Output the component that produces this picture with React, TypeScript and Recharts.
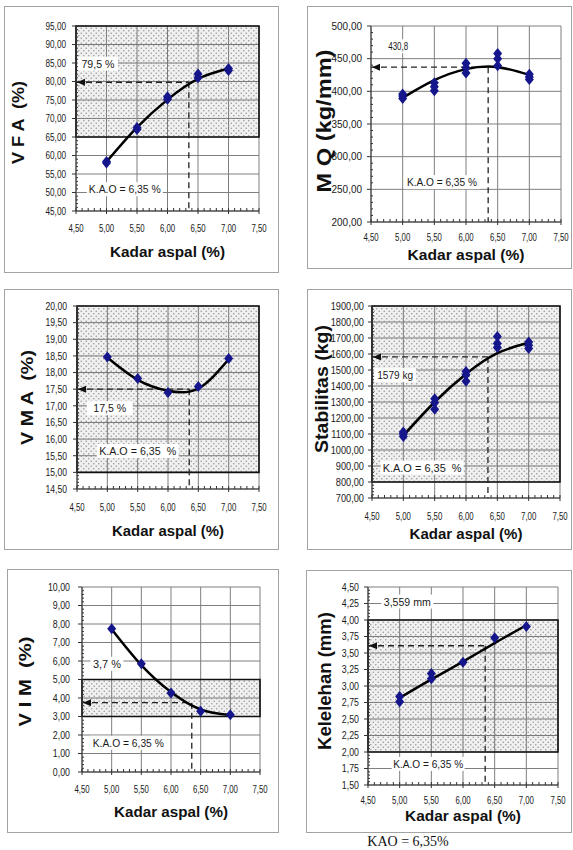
import React from 'react';
import {
  ComposedChart,
  Line,
  Scatter,
  XAxis,
  YAxis,
  CartesianGrid,
  ReferenceArea,
  ReferenceLine,
  ReferenceDot,
} from 'recharts';

// ---- shared x axis: kadar aspal (%) ----
const kadarAspal = [5.0, 5.5, 6.0, 6.5, 7.0];
const xTicks = [4.5, 5.0, 5.5, 6.0, 6.5, 7.0, 7.5];
const kao = 6.35;

// ---- VFA (%) ----
const vfaX = [5.0, 5.0, 5.5, 5.5, 6.0, 6.0, 6.5, 6.5, 7.0, 7.0];
const vfaY = [58.0, 58.4, 67.0, 67.6, 75.2, 75.9, 81.0, 82.0, 83.0, 83.5];
const vfaTrend = [58.3, 67.6, 75.1, 80.7, 83.5];
const vfaTicks = [45, 50, 55, 60, 65, 70, 75, 80, 85, 90, 95];
const vfaBand = [65, 95];
const vfaKao = 79.8;

// ---- MQ (kg/mm) ----
const mqX = [5, 5, 5, 5.5, 5.5, 5.5, 6, 6, 6, 6.5, 6.5, 6.5, 7, 7, 7];
const mqY = [389, 393, 396, 401, 407, 413, 428, 436, 443, 439, 450, 458, 418, 422, 426];
const mqTrend = [390, 417, 434, 437, 425];
const mqTicks = [200, 250, 300, 350, 400, 450, 500];
const mqKao = 437;

// ---- VMA (%) ----
const vmaX = [5.0, 5.5, 6.0, 6.5, 7.0];
const vmaY = [18.47, 17.82, 17.4, 17.58, 18.42];
const vmaTrend = [18.45, 17.78, 17.45, 17.52, 18.4];
const vmaTicks = [14.5, 15, 15.5, 16, 16.5, 17, 17.5, 18, 18.5, 19, 19.5, 20];
const vmaBand = [15, 20];
const vmaKao = 17.5;

// ---- Stabilitas (kg) ----
const stabX = [5, 5, 5, 5.5, 5.5, 5.5, 6, 6, 6, 6.5, 6.5, 6.5, 7, 7, 7];
const stabY = [1085, 1100, 1112, 1255, 1295, 1320, 1430, 1470, 1490, 1640, 1665, 1710, 1635, 1655, 1675];
const stabTrend = [1090, 1300, 1475, 1605, 1670];
const stabTicks = [700, 800, 900, 1000, 1100, 1200, 1300, 1400, 1500, 1600, 1700, 1800, 1900];
const stabBand = [800, 1900];
const stabKao = 1582;

// ---- VIM (%) ----
const vimX = [5.0, 5.5, 6.0, 6.5, 7.0];
const vimY = [7.75, 5.85, 4.27, 3.28, 3.1];
const vimTrend = [7.72, 5.78, 4.32, 3.38, 3.08];
const vimTicks = [0, 1, 2, 3, 4, 5, 6, 7, 8, 9, 10];
const vimBand = [3, 5];
const vimKao = 3.75;

// ---- Kelelehan (mm) ----
const flowX = [5.0, 5.0, 5.5, 5.5, 6.0, 6.5, 7.0];
const flowY = [2.76, 2.84, 3.11, 3.19, 3.36, 3.73, 3.9];
const flowTrend = [2.82, 3.1, 3.37, 3.65, 3.92];
const flowTicks = [1.5, 1.75, 2, 2.25, 2.5, 2.75, 3, 3.25, 3.5, 3.75, 4, 4.25, 4.5];
const flowBand = [2, 4];
const flowKao = 3.61;

const AXIS = '#333';
const GRID = '#7f7f7f';
const MARK = '#16168c';

const zip = (xs: number[], ys: number[]) => xs.map((x, i) => ({ x, y: ys[i] }));
const fmt = (v: number) => v.toFixed(2).replace('.', ',');

function subdivide(majors: number[], n: number) {
  const out: number[] = [];
  for (let i = 0; i < majors.length - 1; i++) {
    const step = (majors[i + 1] - majors[i]) / n;
    for (let j = 0; j < n; j++) out.push(+(majors[i] + j * step).toFixed(4));
  }
  out.push(majors[majors.length - 1]);
  return out;
}
const isMajor = (v: number, majors: number[]) => majors.some((m) => Math.abs(m - v) < 1e-6);

const panels = [
  {
    id: 'vfa',
    box: { left: 5, top: 7, width: 273, height: 265 },
    plot: { left: 76, top: 26, right: 259, bottom: 211 },
    yTicks: vfaTicks, yFont: 10.5, yScale: 0.78, yGap: 10,
    yTitle: 'V F A  (%)', yTitleX: 13, yTitleDy: 4, yTitleLen: 83, yTitleFont: 17,
    xLabelDy: 17, xTitleDy: 40, xTitleLen: 115,
    samples: zip(vfaX, vfaY), trend: zip(kadarAspal, vfaTrend), band: vfaBand, kaoY: vfaKao,
    notes: [
      { x: 4.86, y: 84.8, text: '79,5 %', w: 40, len: 33 },
      { x: 5.3, y: 50.9, text: 'K.A.O = 6,35 %', w: 76, len: 72 },
    ],
  },
  {
    id: 'mq',
    box: { left: 308, top: 7, width: 263, height: 261 },
    plot: { left: 371, top: 26, right: 561, bottom: 222 },
    yTicks: mqTicks, yFont: 10.5, yScale: 0.95, yGap: 9,
    yTitle: 'M Q (kg/mm)', yTitleX: 16, yTitleDy: -3, yTitleLen: 143, yTitleFont: 20,
    xLabelDy: 15, xTitleDy: 32, xTitleLen: 117,
    samples: zip(mqX, mqY), trend: zip(kadarAspal, mqTrend), band: null, kaoY: mqKao,
    notes: [
      { x: 4.93, y: 469, text: '430,8', w: 26, len: 20 },
      { x: 5.62, y: 261, text: 'K.A.O = 6,35 %', w: 76, len: 70 },
    ],
  },
  {
    id: 'vma',
    box: { left: 5, top: 290, width: 273, height: 259 },
    plot: { left: 77, top: 306, right: 259, bottom: 489 },
    yTicks: vmaTicks, yFont: 10.5, yScale: 0.82, yGap: 10,
    yTitle: 'V M A  (%)', yTitleX: 22, yTitleDy: 0, yTitleLen: 95, yTitleFont: 17,
    xLabelDy: 18, xTitleDy: 41, xTitleLen: 112,
    samples: zip(vmaX, vmaY), trend: zip(kadarAspal, vmaTrend), band: vmaBand, kaoY: vmaKao,
    notes: [
      { x: 5.04, y: 16.93, text: '17,5 %', w: 46, len: 33 },
      { x: 5.5, y: 15.64, text: 'K.A.O = 6,35  %', w: 82, len: 77 },
    ],
  },
  {
    id: 'stab',
    box: { left: 308, top: 290, width: 263, height: 259 },
    plot: { left: 372, top: 306, right: 560, bottom: 498 },
    yTicks: stabTicks, yFont: 10.5, yScale: 0.88, yGap: 8,
    yTitle: 'Stabilitas (kg)', yTitleX: 14, yTitleDy: -13, yTitleLen: 128, yTitleFont: 18,
    xLabelDy: 18, xTitleDy: 35, xTitleLen: 113,
    samples: zip(stabX, stabY), trend: zip(kadarAspal, stabTrend), band: stabBand, kaoY: stabKao,
    notes: [
      { x: 4.87, y: 1469, text: '1579 kg', w: 42, len: 36 },
      { x: 5.3, y: 890, text: 'K.A.O = 6,35  %', w: 83, len: 79 },
    ],
  },
  {
    id: 'vim',
    box: { left: 8, top: 570, width: 270, height: 262 },
    plot: { left: 82, top: 587, right: 260, bottom: 772 },
    yTicks: vimTicks, yFont: 10.5, yScale: 0.84, yGap: 12,
    yTitle: 'V I M  (%)', yTitleX: 17, yTitleDy: 2, yTitleLen: 90, yTitleFont: 17,
    xLabelDy: 17, xTitleDy: 39, xTitleLen: 114,
    samples: zip(vimX, vimY), trend: zip(kadarAspal, vimTrend), band: vimBand, kaoY: vimKao,
    notes: [
      { x: 4.92, y: 5.85, text: '3,7 %', w: 33, len: 28 },
      { x: 5.28, y: 1.58, text: 'K.A.O = 6,35 %', w: 77, len: 71 },
    ],
  },
  {
    id: 'flow',
    box: { left: 307, top: 571, width: 264, height: 261 },
    plot: { left: 368, top: 587, right: 558, bottom: 785 },
    yTicks: flowTicks, yFont: 10.5, yScale: 0.84, yGap: 9,
    yTitle: 'Kelelehan (mm)', yTitleX: 17, yTitleDy: -5, yTitleLen: 138, yTitleFont: 19,
    xLabelDy: 15, xTitleDy: 30, xTitleLen: 116,
    samples: zip(flowX, flowY), trend: zip(kadarAspal, flowTrend), band: flowBand, kaoY: flowKao,
    notes: [
      { x: 5.12, y: 4.28, text: '3,559 mm', w: 52, len: 47 },
      { x: 5.45, y: 1.82, text: 'K.A.O = 6,35 %', w: 73, len: 70 },
    ],
  },
];

type PanelCfg = (typeof panels)[number];

function Panel({ cfg }: { cfg: PanelCfg }) {
  const { box, plot } = cfg;
  const xAll = subdivide(xTicks, 5);
  const yAll = subdivide(cfg.yTicks, 5);
  const yMin = cfg.yTicks[0];
  const yMax = cfg.yTicks[cfg.yTicks.length - 1];
  const xAxisH = 20;
  const margin = {
    top: plot.top - box.top,
    right: box.left + box.width - plot.right,
    bottom: box.top + box.height - plot.bottom - xAxisH,
    left: 0,
  };
  const pid = `dots-${cfg.id}`;

  const XTick = ({ x, y, payload }: any) => {
    const major = isMajor(payload.value, xTicks);
    return (
      <g>
        {major ? (
          <line x1={x} x2={x} y1={y - 3} y2={y + 3} stroke={AXIS} />
        ) : (
          <line x1={x} x2={x} y1={y} y2={y - 3} stroke={AXIS} />
        )}
        {major && (
          <text
            transform={`translate(${x},${y + cfg.xLabelDy}) scale(0.68,1)`}
            textAnchor="middle"
            dominantBaseline="central"
            fontSize={11.5}
            fill="#1a1a1a"
          >
            {fmt(payload.value)}
          </text>
        )}
      </g>
    );
  };

  const YTick = ({ x, y, payload }: any) => {
    const major = isMajor(payload.value, cfg.yTicks);
    return (
      <g>
        {major ? (
          <line x1={x - 4} x2={x} y1={y} y2={y} stroke={AXIS} />
        ) : (
          <line x1={x} x2={x + 2} y1={y} y2={y} stroke={AXIS} />
        )}
        {major && (
          <text
            transform={`translate(${x - cfg.yGap},${y}) scale(${cfg.yScale},1)`}
            textAnchor="end"
            dominantBaseline="central"
            fontSize={cfg.yFont}
            fill="#1a1a1a"
          >
            {fmt(payload.value)}
          </text>
        )}
      </g>
    );
  };

  const xTitle = ({ viewBox }: any) => (
    <text
      x={viewBox.x + viewBox.width / 2}
      y={viewBox.y + cfg.xTitleDy}
      textAnchor="middle"
      dominantBaseline="central"
      fontSize={15}
      fontWeight="bold"
      fill="#111"
      textLength={cfg.xTitleLen}
      lengthAdjust="spacingAndGlyphs"
    >
      Kadar aspal (%)
    </text>
  );

  const yTitle = ({ viewBox }: any) => {
    const cy = viewBox.y + viewBox.height / 2 + cfg.yTitleDy;
    return (
      <text
        x={cfg.yTitleX}
        y={cy}
        transform={`rotate(-90, ${cfg.yTitleX}, ${cy})`}
        textAnchor="middle"
        dominantBaseline="central"
        fontSize={cfg.yTitleFont}
        fontWeight="bold"
        fill="#111"
        textLength={cfg.yTitleLen}
        lengthAdjust="spacingAndGlyphs"
        style={{ whiteSpace: 'pre' }}
      >
        {cfg.yTitle}
      </text>
    );
  };

  return (
    <div
      style={{
        position: 'absolute',
        left: box.left - 1,
        top: box.top - 1,
        width: box.width,
        height: box.height,
        border: '1px solid #a3a3a3',
        background: '#fff',
      }}
    >
      <ComposedChart width={box.width} height={box.height} margin={margin}>
        <defs>
          <pattern id={pid} width="5" height="5" patternUnits="userSpaceOnUse">
            <rect width="5" height="5" fill="#000" fillOpacity={0.06} />
            <circle cx="1.25" cy="1.25" r="0.8" fill="#999" />
            <circle cx="3.75" cy="3.75" r="0.8" fill="#999" />
          </pattern>
        </defs>
        {cfg.band && (
          <ReferenceArea y1={cfg.band[0]} y2={cfg.band[1]} fill={`url(#${pid})`} fillOpacity={1} stroke="none" />
        )}
        <CartesianGrid verticalValues={xTicks} horizontalValues={cfg.yTicks} stroke={GRID} />
        {cfg.band && (
          <ReferenceArea y1={cfg.band[0]} y2={cfg.band[1]} fill="none" stroke="#111" strokeWidth={1.6} />
        )}
        <XAxis
          type="number"
          dataKey="x"
          domain={[4.5, 7.5]}
          ticks={xAll}
          interval={0}
          allowDataOverflow
          height={xAxisH}
          tickSize={0}
          tickMargin={0}
          tickLine={false}
          axisLine={{ stroke: AXIS }}
          tick={<XTick />}
          label={xTitle}
        />
        <YAxis
          type="number"
          dataKey="y"
          domain={[yMin, yMax]}
          ticks={yAll}
          interval={0}
          allowDataOverflow
          width={plot.left - box.left}
          tickSize={0}
          tickMargin={0}
          tickLine={false}
          axisLine={{ stroke: AXIS }}
          tick={<YTick />}
          label={yTitle}
        />
        <ReferenceLine
          segment={[{ x: 4.5, y: cfg.kaoY }, { x: kao, y: cfg.kaoY }]}
          stroke="#222"
          strokeWidth={1.3}
          strokeDasharray="6 4"
        />
        <ReferenceLine
          segment={[{ x: kao, y: cfg.kaoY }, { x: kao, y: yMin }]}
          stroke="#222"
          strokeWidth={1.3}
          strokeDasharray="6 4"
        />
        <ReferenceDot
          x={4.5}
          y={cfg.kaoY}
          shape={(p: any) => (
            <path d={`M${p.cx + 1},${p.cy} L${p.cx + 9},${p.cy - 3.5} L${p.cx + 9},${p.cy + 3.5} Z`} fill="#111" />
          )}
        />
        {cfg.notes.map((n) => (
          <ReferenceDot
            key={n.text}
            x={n.x}
            y={n.y}
            shape={(p: any) => (
              <g>
                <rect x={p.cx - n.w / 2} y={p.cy - 7} width={n.w} height={14} fill="#fff" />
                <text
                  x={p.cx}
                  y={p.cy}
                  textAnchor="middle"
                  dominantBaseline="central"
                  fontSize={11}
                  fill="#1a1a1a"
                  textLength={n.len}
                  lengthAdjust="spacingAndGlyphs"
                  style={{ whiteSpace: 'pre' }}
                >
                  {n.text}
                </text>
              </g>
            )}
          />
        ))}
        <Line
          data={cfg.trend}
          dataKey="y"
          type="natural"
          stroke="#000"
          strokeWidth={2.5}
          dot={false}
          isAnimationActive={false}
        />
        <Scatter
          data={cfg.samples}
          dataKey="y"
          isAnimationActive={false}
          shape={(p: any) => (
            <path
              d={`M${p.cx},${p.cy - 5.5} L${p.cx + 4.5},${p.cy} L${p.cx},${p.cy + 5.5} L${p.cx - 4.5},${p.cy} Z`}
              fill={MARK}
            />
          )}
        />
      </ComposedChart>
    </div>
  );
}

export default function App() {
  return (
    <div
      style={{
        position: 'absolute',
        left: 0,
        top: 0,
        width: 573,
        height: 850,
        background: '#fff',
        fontFamily: '"Liberation Sans", Arial, sans-serif',
      }}
    >
      {panels.map((cfg) => (
        <Panel key={cfg.id} cfg={cfg} />
      ))}
      <div
        style={{
          position: 'absolute',
          left: 308,
          top: 834,
          width: 200,
          textAlign: 'center',
          fontFamily: '"Liberation Serif", "Times New Roman", serif',
          fontSize: 14,
          lineHeight: '16px',
          color: '#111',
        }}
      >
        KAO = 6,35%
      </div>
    </div>
  );
}
